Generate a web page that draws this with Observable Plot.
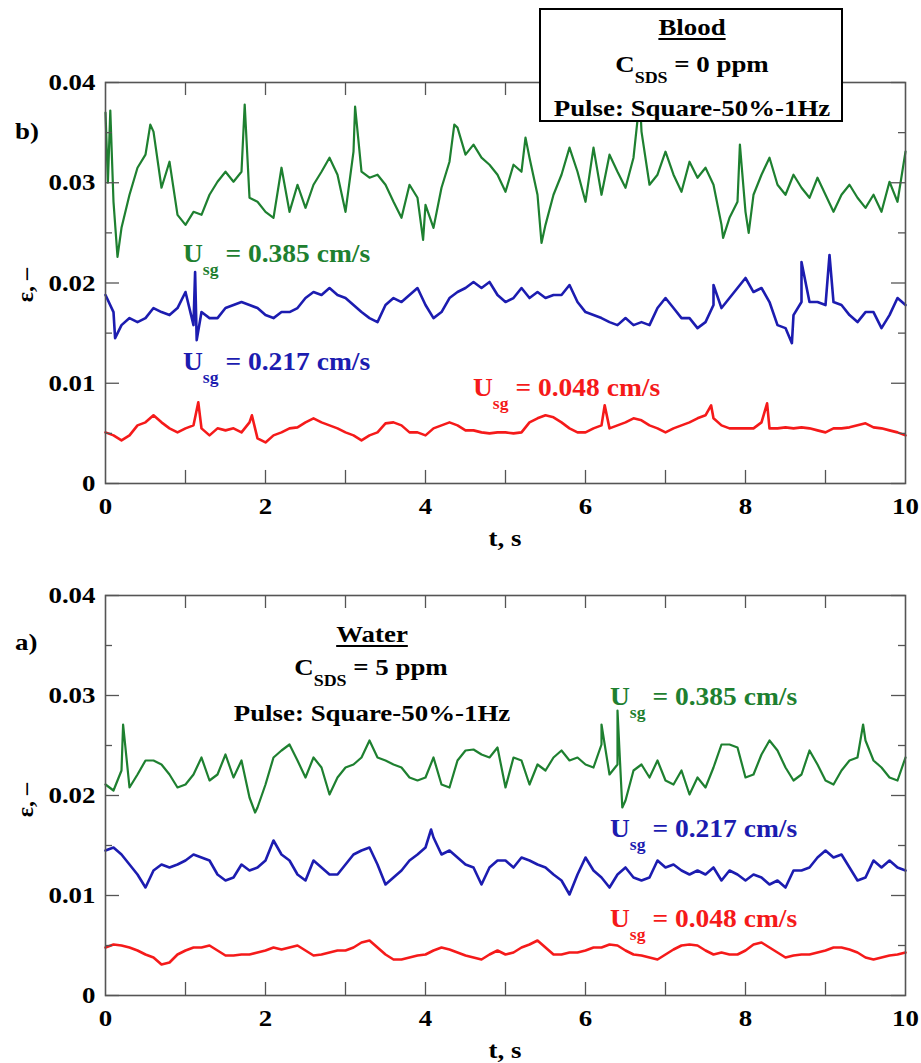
<!DOCTYPE html>
<html><head><meta charset="utf-8">
<script src="https://cdn.jsdelivr.net/npm/d3@7"></script>
<script src="https://cdn.jsdelivr.net/npm/@observablehq/plot@0.6"></script>
<style>
body{margin:0;background:#fff;}
#root{position:relative;width:921px;height:1063px;overflow:hidden;font-family:"Liberation Serif","Times New Roman",serif;font-weight:bold;}
.lbl{position:absolute;white-space:nowrap;line-height:1;}
.sub{position:relative;}
.box{position:absolute;border:2px solid #000;background:#fff;box-sizing:border-box;}
</style></head><body><div id="root"></div>
<script>
const xTickLabels = [0, 2, 4, 6, 8, 10];
const xTicks = [1, 2, 3, 4, 5, 6, 7, 8, 9];
const yTickLabels = [0, 0.01, 0.02, 0.03, 0.04];
const yMinor = [0.005, 0.015, 0.025, 0.035];

// b) Blood, C_SDS = 0 ppm
const bloodGreen = [0.0370,0.0281,0.0255,0.0288,0.0315,0.0328,0.0351,0.0295,0.0321,0.0268,
0.0258,0.0271,0.0268,0.0288,0.0301,0.0311,0.0301,0.0311,0.0285,0.0281,
0.0271,0.0265,0.0315,0.0271,0.0298,0.0275,0.0298,0.0311,0.0325,0.0308,
0.0271,0.0331,0.0311,0.0305,0.0308,0.0298,0.0281,0.0265,0.0298,0.0285,
0.0278,0.0255,0.0295,0.0321,0.0355,0.0328,0.0338,0.0325,0.0318,0.0308,
0.0291,0.0318,0.0311,0.0325,0.0288,0.0258,0.0288,0.0308,0.0335,0.0311,
0.0281,0.0335,0.0288,0.0328,0.0311,0.0295,0.0325,0.0351,0.0298,0.0308,
0.0331,0.0308,0.0291,0.0321,0.0305,0.0315,0.0298,0.0258,0.0265,0.0281,
0.0271,0.0288,0.0308,0.0325,0.0298,0.0288,0.0308,0.0295,0.0285,0.0305,
0.0288,0.0271,0.0288,0.0298,0.0285,0.0275,0.0288,0.0271,0.0301,0.0281,0.0331];
const bloodGreenPeaks = [[0.03,0.0300],[0.06,0.0372],[0.15,0.0226],[0.56,0.0358],[1.74,0.0378],[3.12,0.0376],[3.97,0.0243],[4.36,0.0358],[5.25,0.0345],[5.45,0.0240],[6.68,0.0385],[7.72,0.0245],[7.93,0.0338],[8.04,0.0250]];

const bloodBlue = [0.0188,0.0171,0.0158,0.0165,0.0161,0.0165,0.0175,0.0171,0.0168,0.0175,
0.0191,0.0158,0.0171,0.0165,0.0165,0.0175,0.0178,0.0181,0.0178,0.0175,
0.0168,0.0165,0.0171,0.0171,0.0175,0.0185,0.0191,0.0188,0.0195,0.0188,
0.0185,0.0178,0.0171,0.0165,0.0161,0.0178,0.0185,0.0181,0.0188,0.0195,
0.0178,0.0165,0.0171,0.0185,0.0191,0.0195,0.0201,0.0195,0.0201,0.0188,
0.0181,0.0185,0.0195,0.0185,0.0191,0.0185,0.0188,0.0188,0.0198,0.0181,
0.0171,0.0168,0.0165,0.0161,0.0158,0.0165,0.0158,0.0161,0.0158,0.0175,
0.0185,0.0175,0.0165,0.0165,0.0155,0.0161,0.0178,0.0175,0.0185,0.0195,
0.0205,0.0191,0.0195,0.0181,0.0158,0.0155,0.0168,0.0181,0.0181,0.0181,
0.0178,0.0181,0.0178,0.0168,0.0161,0.0171,0.0171,0.0155,0.0168,0.0185,0.0178];
const bloodBluePeaks = [[0.12,0.0145],[1.12,0.0211],[1.14,0.0143],[7.6,0.0198],[8.58,0.0140],[8.7,0.0221],[9.05,0.0228]];

const bloodRed = [0.0051,0.0048,0.0043,0.0048,0.0058,0.0061,0.0068,0.0061,0.0055,0.0051,
0.0055,0.0058,0.0055,0.0048,0.0055,0.0053,0.0055,0.0051,0.0061,0.0045,
0.0041,0.0048,0.0051,0.0055,0.0056,0.0061,0.0065,0.0061,0.0058,0.0055,
0.0051,0.0048,0.0043,0.0048,0.0051,0.0060,0.0061,0.0058,0.0051,0.0051,
0.0048,0.0055,0.0058,0.0061,0.0058,0.0053,0.0053,0.0051,0.0050,0.0051,
0.0051,0.0050,0.0051,0.0061,0.0065,0.0068,0.0066,0.0061,0.0055,0.0051,
0.0051,0.0055,0.0058,0.0055,0.0058,0.0061,0.0065,0.0063,0.0058,0.0055,
0.0051,0.0055,0.0058,0.0061,0.0065,0.0068,0.0065,0.0058,0.0055,0.0055,
0.0055,0.0055,0.0061,0.0055,0.0055,0.0056,0.0055,0.0056,0.0055,0.0053,
0.0051,0.0055,0.0055,0.0056,0.0058,0.0060,0.0056,0.0055,0.0053,0.0051,0.0048];
const bloodRedPeaks = [[1.16,0.0081],[1.83,0.0068],[6.24,0.0078],[7.57,0.0078],[8.27,0.0080]];

// a) Water, C_SDS = 5 ppm
const waterGreen = [0.0211,0.0205,0.0225,0.0208,0.0221,0.0235,0.0235,0.0231,0.0221,0.0208,
0.0211,0.0221,0.0238,0.0215,0.0221,0.0241,0.0218,0.0235,0.0198,0.0188,
0.0211,0.0238,0.0245,0.0251,0.0235,0.0218,0.0238,0.0228,0.0201,0.0218,
0.0228,0.0231,0.0238,0.0255,0.0238,0.0235,0.0231,0.0228,0.0218,0.0215,
0.0218,0.0238,0.0211,0.0208,0.0235,0.0245,0.0246,0.0241,0.0238,0.0248,
0.0208,0.0238,0.0235,0.0211,0.0231,0.0225,0.0238,0.0245,0.0235,0.0238,
0.0231,0.0228,0.0251,0.0221,0.0231,0.0195,0.0225,0.0231,0.0218,0.0235,
0.0215,0.0211,0.0225,0.0201,0.0218,0.0208,0.0228,0.0251,0.0251,0.0248,
0.0218,0.0221,0.0241,0.0255,0.0245,0.0228,0.0215,0.0221,0.0245,0.0231,
0.0215,0.0211,0.0225,0.0235,0.0238,0.0255,0.0235,0.0228,0.0218,0.0215,0.0238];
const waterGreenPeaks = [[0.22,0.0271],[1.87,0.0183],[6.2,0.0271],[6.4,0.0285],[6.46,0.0188],[9.47,0.0271]];

const waterBlue = [0.0145,0.0148,0.0141,0.0131,0.0121,0.0108,0.0125,0.0131,0.0128,0.0131,
0.0135,0.0141,0.0138,0.0135,0.0121,0.0115,0.0118,0.0131,0.0125,0.0128,
0.0135,0.0155,0.0141,0.0135,0.0121,0.0115,0.0135,0.0128,0.0121,0.0121,
0.0131,0.0141,0.0145,0.0148,0.0131,0.0111,0.0118,0.0125,0.0135,0.0141,
0.0148,0.0158,0.0141,0.0145,0.0138,0.0131,0.0128,0.0111,0.0128,0.0135,
0.0135,0.0128,0.0138,0.0135,0.0131,0.0128,0.0121,0.0115,0.0101,0.0121,
0.0138,0.0125,0.0118,0.0108,0.0121,0.0128,0.0118,0.0115,0.0118,0.0135,
0.0128,0.0131,0.0125,0.0121,0.0125,0.0121,0.0128,0.0115,0.0125,0.0121,
0.0115,0.0121,0.0118,0.0111,0.0115,0.0108,0.0125,0.0125,0.0128,0.0138,
0.0145,0.0138,0.0141,0.0128,0.0115,0.0118,0.0135,0.0128,0.0135,0.0128,0.0125];
const waterBluePeaks = [[4.07,0.0166]];

const waterRed = [0.0048,0.0051,0.0050,0.0048,0.0045,0.0041,0.0038,0.0031,0.0033,0.0041,
0.0045,0.0048,0.0048,0.0050,0.0045,0.0040,0.0040,0.0041,0.0041,0.0043,
0.0045,0.0048,0.0046,0.0048,0.0050,0.0045,0.0040,0.0041,0.0043,0.0045,
0.0045,0.0048,0.0053,0.0055,0.0048,0.0041,0.0036,0.0036,0.0038,0.0040,
0.0041,0.0045,0.0048,0.0046,0.0043,0.0040,0.0038,0.0036,0.0041,0.0045,
0.0041,0.0043,0.0048,0.0051,0.0055,0.0048,0.0041,0.0041,0.0043,0.0043,
0.0045,0.0048,0.0048,0.0051,0.0050,0.0045,0.0041,0.0040,0.0038,0.0036,
0.0041,0.0046,0.0050,0.0051,0.0050,0.0045,0.0041,0.0043,0.0041,0.0041,
0.0045,0.0051,0.0053,0.0048,0.0043,0.0038,0.0040,0.0041,0.0041,0.0043,
0.0045,0.0048,0.0048,0.0046,0.0043,0.0038,0.0036,0.0038,0.0040,0.0041,0.0043];
const waterRedPeaks = [];

// ---------- drawing ----------
const GREEN = "#1e8030", BLUE = "#1c1cb0", RED = "#f51a1a";
const SX = 1.12;
const root = document.getElementById("root");
const time = d3.range(bloodGreen.length).map(i => i / 10);

function series(vals, peaks) {
  return time.map((t, i) => ({t, v: vals[i]}))
    .concat(peaks.map(([t, v]) => ({t, v})))
    .sort((a, b) => a.t - b.t);
}

function panel(lines, top, height, marginTop, marginBottom) {
  const marks = lines.map(([vals, peaks, color, w]) =>
    Plot.line(series(vals, peaks), {x: "t", y: "v", stroke: color, strokeWidth: w, strokeLinejoin: "round", curve: "linear"}));
  const tickStyle = {stroke: "#555", strokeWidth: 1.3};
  marks.push(
    Plot.ruleY(yTickLabels, {x1: 0, x2: 0.175, ...tickStyle}),
    Plot.ruleY(yTickLabels, {x1: 9.825, x2: 10, ...tickStyle}),
    Plot.ruleY(yMinor, {x1: 0, x2: 0.0875, ...tickStyle}),
    Plot.ruleY(yMinor, {x1: 9.9125, x2: 10, ...tickStyle}),
    Plot.ruleX(xTicks, {y1: 0, y2: 0.0013, ...tickStyle}),
    Plot.ruleX(xTicks, {y1: 0.0387, y2: 0.04, ...tickStyle}),
    Plot.frame({stroke: "#555", strokeWidth: 1.6})
  );
  const svg = Plot.plot({
    width: 921, height, marginLeft: 105, marginRight: 16, marginTop, marginBottom,
    style: {fontFamily: '"Liberation Serif", "Times New Roman", serif', fontSize: "24px", fontWeight: "bold", color: "#000", background: "transparent", overflow: "visible"},
    x: {domain: [0, 10], ticks: xTickLabels, tickSize: 0, tickPadding: 13, label: null, tickFormat: d => String(d)},
    y: {domain: [0, 0.04], ticks: yTickLabels, tickSize: 0, tickPadding: 10, label: null, tickFormat: d => d === 0 ? "0" : d.toFixed(2)},
    marks
  });
  svg.style.position = "absolute";
  svg.style.left = "0px";
  svg.style.top = top + "px";
  svg.querySelectorAll("text").forEach(t => {
    t.setAttribute("transform", (t.getAttribute("transform") || "") + ` scale(${SX},1)`);
  });
  root.appendChild(svg);
}

panel([[bloodGreen, bloodGreenPeaks, GREEN, 2.2], [bloodBlue, bloodBluePeaks, BLUE, 2.6], [bloodRed, bloodRedPeaks, RED, 2.6]], 0, 560, 82, 77);
panel([[waterGreen, waterGreenPeaks, GREEN, 2.2], [waterBlue, waterBluePeaks, BLUE, 2.6], [waterRed, waterRedPeaks, RED, 2.6]], 560, 503, 35, 68);

function label(html, x, baseline, {size = 24, color = "#000", anchor = "start", sx = SX, underline = false} = {}) {
  const d = document.createElement("div");
  d.className = "lbl";
  d.innerHTML = html;
  d.style.fontSize = size + "px";
  d.style.color = color;
  d.style.left = x + "px";
  d.style.top = (baseline - 0.8375 * size) + "px";
  const tx = anchor === "middle" ? "translateX(-50%) " : anchor === "end" ? "translateX(-100%) " : "";
  d.style.transformOrigin = anchor === "middle" ? "50% 0" : anchor === "end" ? "100% 0" : "0 0";
  d.style.transform = tx + `scaleX(${sx})`;
  if (underline) {
    d.style.textDecoration = "underline";
    d.style.textDecorationThickness = "2px";
    d.style.textUnderlineOffset = "3px";
  }
  root.appendChild(d);
}
const usg = v => `U<span class="sub" style="font-size:16px;top:13px">sg</span> = ${v} cm/s`;
const csds = v => `C<span class="sub" style="font-size:16px;top:11px">SDS</span> = ${v} ppm`;

// panel letters, axis titles
label("b)", 15, 139, {size: 24});
label("a)", 15, 650, {size: 24});
label("t, s", 505, 546, {anchor: "middle"});
label("t, s", 505, 1058, {anchor: "middle"});
for (const cy of [285, 800]) {
  const d = document.createElement("div");
  d.className = "lbl";
  d.textContent = "ε, –";
  d.style.fontSize = "24px";
  d.style.left = "25px";
  d.style.top = cy + "px";
  d.style.transform = "translate(-50%,-50%) rotate(-90deg)";
  root.appendChild(d);
}

// series labels
label(usg("0.385"), 183, 262, {size: 25, color: GREEN, sx: 1.1});
label(usg("0.217"), 183, 370, {size: 25, color: BLUE, sx: 1.1});
label(usg("0.048"), 473, 396, {size: 25, color: RED, sx: 1.1});
label(usg("0.385"), 610, 705, {size: 25, color: GREEN, sx: 1.1});
label(usg("0.217"), 610, 837, {size: 25, color: BLUE, sx: 1.1});
label(usg("0.048"), 610, 927, {size: 25, color: RED, sx: 1.1});

// Blood box
const box = document.createElement("div");
box.className = "box";
Object.assign(box.style, {left: "539px", top: "8px", width: "304px", height: "114px"});
root.appendChild(box);
label("Blood", 692, 35, {anchor: "middle", underline: true});
label(csds("0"), 692, 72, {anchor: "middle"});
label("Pulse: Square-50%-1Hz", 692, 116, {anchor: "middle"});

// Water block
label("Water", 372, 642, {anchor: "middle", underline: true});
label(csds("5"), 371, 675, {anchor: "middle"});
label("Pulse: Square-50%-1Hz", 372, 721, {anchor: "middle"});
</script></body></html>
